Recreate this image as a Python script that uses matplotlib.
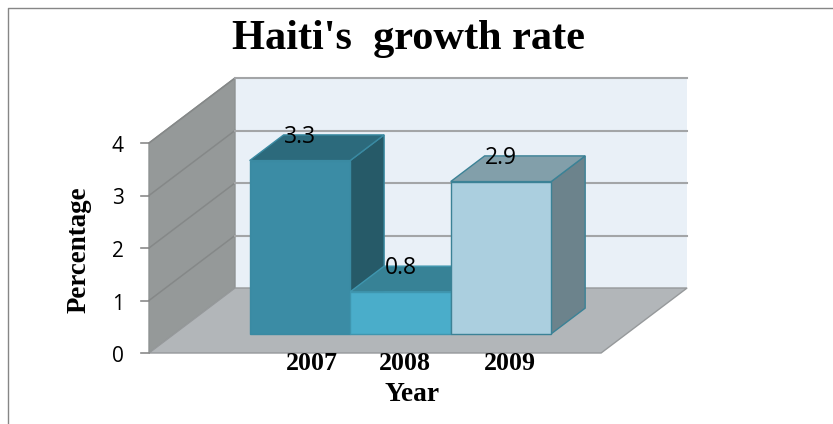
import matplotlib
matplotlib.use("Agg")
import matplotlib.pyplot as plt
from matplotlib.patches import Polygon

# Chart content
years = ["2007", "2008", "2009"]
growth = [3.3, 0.8, 2.9]
y_ticks = [0, 1, 2, 3, 4]
title = "Haiti's  growth rate"
x_label = "Year"
y_label = "Percentage"

# Colours per bar: front, top, side
bar_colors = [
    ("#3B8CA5", "#2C6A7C", "#265A68"),
    ("#4AADCA", "#378296", "#2F7284"),
    ("#ABCFDF", "#829FAA", "#6C838C"),
]
edge_colors = ["#3A8AA2", "#3F96AF", "#3B8296"]
year_label_shift = [11.5, 4.5, 9.0]

# Oblique projection of the chart box, in figure pixels
ORIGIN_X, ORIGIN_Y = 149.0, 353.0
UNIT_Y = 52.5
CAT_W = 150.7
DEPTH_X, DEPTH_Y = 86.0, -65.0
BAR_W = 0.667
BAR_D0, BAR_D1 = 0.295, 0.69


def project(cat, val, depth):
    """Map (category position, value, depth 0..1) to pixel coordinates."""
    return (ORIGIN_X + cat * CAT_W + depth * DEPTH_X,
            ORIGIN_Y - val * UNIT_Y + depth * DEPTH_Y)


def face(ax, pts, fc, ec=None, lw=0.0, z=1):
    ax.add_patch(Polygon([project(*p) for p in pts], closed=True, facecolor=fc,
                         edgecolor=ec if ec else fc, linewidth=lw, zorder=z,
                         joinstyle="miter"))


fig = plt.figure(figsize=(8.33, 4.24), dpi=100, facecolor="white")
ax = fig.add_axes([0, 0, 1, 1])
ax.set_xlim(0, 833)
ax.set_ylim(424, 0)
ax.axis("off")

# Outer frame: only the top and left edges are visible
ax.plot([8.5, 8.5, 833], [424, 8, 8], color="#868686", lw=1.0, zorder=0)

n = len(years)
top = max(y_ticks)
grid = "#A3A5A7"

# Walls and floor
face(ax, [(0, 0, 1), (n, 0, 1), (n, top, 1), (0, top, 1)], "#E9F0F7")
face(ax, [(0, 0, 0), (0, 0, 1), (0, top, 1), (0, top, 0)], "#959999", "#8E9292", 1.0)
face(ax, [(0, 0, 0), (n, 0, 0), (n, 0, 1), (0, 0, 1)], "#B2B6B9", "#96999B", 1.0)

# Gridlines across both walls, with ticks on the value axis
for t in y_ticks:
    if t > 0:
        xs, ys = zip(project(0, t, 0), project(0, t, 1))
        ax.plot(xs, ys, color="#858888", lw=1.1, zorder=2)
        xs, ys = zip(project(0, t, 1), project(n, t, 1))
        ax.plot(xs, ys, color=grid, lw=1.5, zorder=2)
    x0, y0 = project(0, t, 0)
    ax.plot([x0 - 8, x0], [y0, y0], color="#8A8A8A", lw=1.2, zorder=2)
    ax.text(x0 - 31, y0 + 3.5, str(t), fontsize=15, family="Open Sans",
            ha="center", va="center", color="black", zorder=6)

# Bars, drawn left to right so each one overlaps its neighbour's side
for i, (val, (front, top_c, side), ec) in enumerate(zip(growth, bar_colors, edge_colors)):
    l = (n - n * BAR_W) / 2 + i * BAR_W
    r = l + BAR_W
    z = 3 + i * 0.1
    face(ax, [(r, 0, BAR_D0), (r, 0, BAR_D1), (r, val, BAR_D1), (r, val, BAR_D0)], side, ec, 1.0, z)
    face(ax, [(l, val, BAR_D0), (r, val, BAR_D0), (r, val, BAR_D1), (l, val, BAR_D1)], top_c, ec, 1.0, z)
    face(ax, [(l, 0, BAR_D0), (r, 0, BAR_D0), (r, val, BAR_D0), (l, val, BAR_D0)], front, ec, 1.0, z + 0.05)

    # Value label centred over the front face, level with the rear edge of the top
    px, _ = project(l + BAR_W / 2, val, BAR_D0)
    _, py = project(l + BAR_W / 2, val, BAR_D1)
    ax.text(px, py + 2, f"{val:g}", fontsize=16.5, family="Open Sans",
            ha="center", va="center", color="black", zorder=6)

    # Category label under the floor
    cx, _ = project(l + BAR_W / 2, 0, BAR_D0)
    ax.text(cx + year_label_shift[i], 364, years[i], fontsize=18.6,
            family="Liberation Serif", fontweight="bold", ha="center", va="center", zorder=6)

# Titles
ax.text(408.5, 39.5, title, fontsize=30.5, family="Liberation Serif", fontweight="bold",
        ha="center", va="center")
ax.text(412, 394.5, x_label, fontsize=19.8, family="Liberation Serif", fontweight="bold",
        ha="center", va="center")
ax.text(79, 249.5, y_label, fontsize=19.4, family="Liberation Serif", fontweight="bold",
        rotation=90, ha="center", va="center")

fig.savefig("out.png", dpi=100)
